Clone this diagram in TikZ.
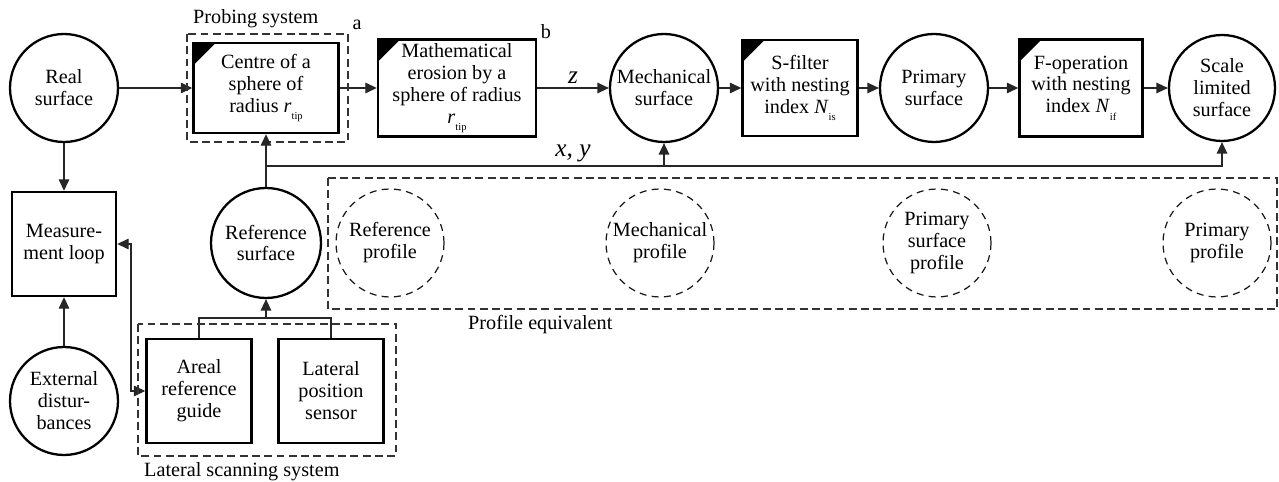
\documentclass[tikz,border=0pt]{standalone}
\usepackage{fontspec}
\setmainfont{Liberation Serif}
\usetikzlibrary{arrows.meta}
\newcommand{\symidx}[2]{\textit{#1}\raisebox{-0.8ex}{\fontsize{6pt}{6pt}\selectfont #2}}

\begin{document}
\begin{tikzpicture}[x=0.02cm, y=-0.02cm, >={Triangle[length=6.5pt,width=6pt]},
  font=\fontsize{11.5pt}{12.5pt}\selectfont,
  surf/.style={circle, draw, line width=1.3pt, minimum size=2.16cm, inner sep=0pt, align=center},
  prof/.style={circle, draw=black!90, dash pattern=on 4pt off 3pt, line width=0.7pt, minimum size=2.16cm, inner sep=0pt, align=center},
  plainbox/.style={draw, line width=1.4pt, inner sep=0pt, align=center},
  opbox/.style={plainbox, path picture={\fill (path picture bounding box.north west) -- ++(0.44cm,0) -- ++(-0.44cm,-0.44cm) -- cycle;}},
  group/.style={draw=black!80, dash pattern=on 4.5pt off 2.5pt, line width=0.75pt},
  link/.style={draw=black!85, line width=0.65pt}]
  \useasboundingbox (0,0) rectangle (1279,482);
  % ------- top row: surfaces and operations -------
  \node[surf] (real) at (64,88) {Real\\surface};
  \node[opbox, minimum width=2.9cm, minimum height=1.8cm] (probe) at (266,88) {Centre of a\\sphere of\\radius \symidx{r}{tip}};
  \node[opbox, minimum width=3.16cm, minimum height=1.94cm] (erosion) at (457,88) {Mathematical\\erosion by a\\sphere of radius\\\symidx{r}{tip}};
  \node[surf] (mech) at (664,88) {Mechanical\\surface};
  \node[opbox, minimum width=2.3cm, minimum height=1.92cm] (sfilter) at (800,88) {S-filter\\with nesting\\index \symidx{N}{is}};
  \node[surf] (primary) at (934,88) {Primary\\surface};
  \node[opbox, minimum width=2.46cm, minimum height=1.94cm] (foper) at (1081,88) {F-operation\\with nesting\\index \symidx{N}{if}};
  \node[surf, minimum size=2.12cm] (scale) at (1222,88) {Scale\\limited\\surface};
  \draw[link, ->] (real) -- (probe);
  \draw[link, ->] (probe) -- (erosion);
  \draw[link, ->] (erosion) -- node[above, inner sep=2pt, font=\Large\itshape] (zlabel) {z} (mech);
  \draw[link, ->] (mech) -- (sfilter);
  \draw[link, ->] (sfilter) -- (primary);
  \draw[link, ->] (primary) -- (foper);
  \draw[link, ->] (foper) -- (scale);
  \draw[group] (187,34) rectangle (348,142);
  \node[anchor=west] (probesys) at (187,19) {Probing system};
  \node (alabel) at (357,25) {a};
  \node (blabel) at (546,32) {b};
  % ------- lateral position x, y -------
  \node[surf, minimum size=2.2cm] (refsurf) at (266,243) {Reference\\surface};
  \coordinate (xyfork) at (266,166);
  \draw[link, ->] (refsurf) -- (probe);
  \draw[link, ->] (xyfork) -| (scale);
  \draw[link, ->] (mech.south |- xyfork) -- (mech);
  \node[font=\Large\itshape] (xylabel) at (573,153) {x, y};
  % ------- measurement loop -------
  \node[plainbox, minimum size=2.08cm] (loop) at (64,244) {Measure-\\ment loop};
  \node[surf] (ext) at (64,401) {External\\distur-\\bances};
  \draw[link, ->] (real) -- (loop);
  \draw[link, ->] (ext) -- (loop);
  % ------- lateral scanning system -------
  \node[plainbox, minimum width=2.1cm, minimum height=2.08cm] (areal) at (199,391) {Areal\\reference\\guide};
  \node[plainbox, minimum width=2.1cm, minimum height=2.08cm] (lateral) at (331,391) {Lateral\\position\\sensor};
  \coordinate (guidejoin) at (266,318);
  \draw[link] (areal) |- (guidejoin) -| (lateral);
  \draw[link, ->] (guidejoin) -- (refsurf);
  \coordinate (loopbend) at (131,244);
  \draw[link, <->] (loop) -- (loopbend) |- (areal);
  \draw[group] (138,324) rectangle (396,456);
  \node[anchor=west] (latsys) at (138,472) {Lateral scanning system};
  % ------- profile equivalent -------
  \draw[group] (328,178) rectangle (1277,309);
  \node[prof] (refprof) at (390,243) {Reference\\profile};
  \node[prof] (mechprof) at (660,243) {Mechanical\\profile};
  \node[prof] (primsurfprof) at (937,243) {Primary\\surface\\profile};
  \node[prof] (primprof) at (1217,243) {Primary\\profile};
  \node[anchor=west] (profeq) at (462,325) {Profile equivalent};
\end{tikzpicture}
\end{document}
